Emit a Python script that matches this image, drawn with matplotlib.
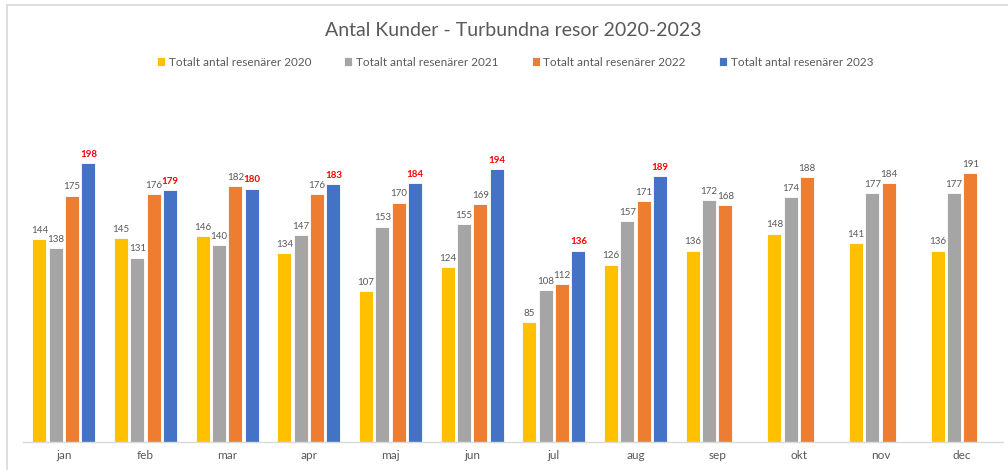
import matplotlib
matplotlib.use("Agg")
import matplotlib.pyplot as plt
import numpy as np
from matplotlib.patches import Rectangle

plt.rcParams['font.family'] = ['Lato', 'DejaVu Sans']

months = ["jan", "feb", "mar", "apr", "maj", "jun", "jul", "aug", "sep", "okt", "nov", "dec"]
series_names = ["Totalt antal resenärer 2020", "Totalt antal resenärer 2021",
                "Totalt antal resenärer 2022", "Totalt antal resenärer 2023"]
v2020 = [144, 145, 146, 134, 107, 124, 85, 126, 136, 148, 141, 136]
v2021 = [138, 131, 140, 147, 153, 155, 108, 157, 172, 174, 177, 177]
v2022 = [175, 176, 182, 176, 170, 169, 112, 171, 168, 188, 184, 191]
v2023 = [198, 179, 180, 183, 184, 194, 136, 189, None, None, None, None]
title = "Antal Kunder - Turbundna resor 2020-2023"

colors = ["#FFC000", "#A5A5A5", "#ED7D31", "#4472C4"]
text_gray = "#595959"

fig = plt.figure(figsize=(10.08, 4.70), dpi=100)
# outer chart border
fig.patches.append(Rectangle((7/1008, -0.1), 1.2, 1 - 5/470 + 0.1, transform=fig.transFigure,
                             fill=False, edgecolor="#D9D9D9", linewidth=1.2))

ax = fig.add_axes([23/1008, 1 - 442/470, 980/1008, 352/470])
x = np.arange(len(months))
offsets = [-0.3, -0.1, 0.1, 0.3]
all_series = [v2020, v2021, v2022, v2023]
handles = []
for i, (vals, name) in enumerate(zip(all_series, series_names)):
    xs = [xi + offsets[i] for xi, v in zip(x, vals) if v is not None]
    ys = [v for v in vals if v is not None]
    b = ax.bar(xs, ys, width=0.175, color=colors[i], edgecolor="white", linewidth=0.6, label=name)
    handles.append(b)
    for xx, yy in zip(xs, ys):
        if i == 3:
            ax.annotate(str(yy), (xx, yy), xytext=(0, 3), textcoords="offset points",
                        ha="center", va="bottom", fontsize=7, color="#FF0000", fontweight="bold")
        else:
            ax.annotate(str(yy), (xx, yy), xytext=(0, 3), textcoords="offset points",
                        ha="center", va="bottom", fontsize=7, color=text_gray)

ax.set_xlim(-0.5, len(months) - 0.5)
ax.set_ylim(0, 250)
ax.set_xticks(x)
ax.set_xticklabels(months, fontsize=8.5, color=text_gray)
ax.tick_params(axis="x", length=0, pad=6)
ax.set_yticks([])
for s in ["top", "left", "right"]:
    ax.spines[s].set_visible(False)
ax.spines["bottom"].set_color("#D9D9D9")
ax.spines["bottom"].set_linewidth(1.0)

fig.text(513/1008, 1 - 30/470, title, ha="center", va="center", fontsize=14, color=text_gray)
fig.legend(handles=handles, labels=series_names, loc="center", bbox_to_anchor=(515/1008, 1 - 62/470),
           ncol=4, frameon=False, fontsize=8.5, labelcolor=text_gray, handlelength=0.7, handleheight=0.7,
           handletextpad=0.3, columnspacing=2.8)

fig.savefig("out.png", dpi=100)
